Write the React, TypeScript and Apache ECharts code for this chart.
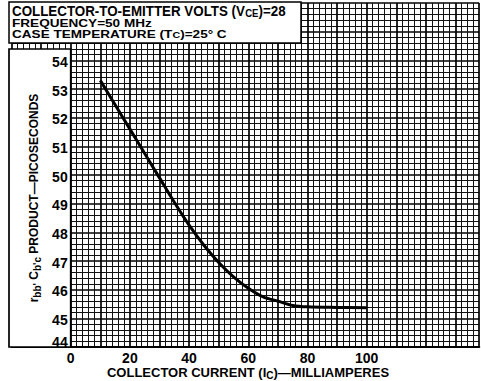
import React, { useEffect, useRef } from "react";
import * as echarts from "echarts";

// Collector current (mA) and r_bb'·C_b'c product (ps)
const currentMA = [10, 15, 20, 25, 30, 35, 40, 45, 50, 55, 60, 65, 70, 75, 80, 90, 100];
const productPs = [53.3, 52.45, 51.6, 50.75, 49.9, 49.05, 48.25, 47.55, 46.95, 46.45, 46.05, 45.75, 45.6, 45.45, 45.4, 45.38, 45.37];

const xTickLabels = [0, 20, 40, 60, 80, 100];
const yTickLabels = [44, 45, 46, 47, 48, 49, 50, 51, 52, 53, 54];

const headerTitle = "COLLECTOR-TO-EMITTER VOLTS (V{s|CE})=28";
const headerConditions = ["FREQUENCY=50 MHz", "CASE TEMPERATURE (T{s|C})=25° C"];
const yTitle = "r{s|bb'} C{s|b'c} PRODUCT—PICOSECONDS";
const xTitle = "COLLECTOR CURRENT (I{s|C})—MILLIAMPERES";

const FONT = "Liberation Sans";

export default function App() {
  const ref = useRef<HTMLDivElement>(null);

  useEffect(() => {
    if (!ref.current) return;
    const chart = echarts.init(ref.current, null, { renderer: "svg" });

    const gridLeft = 11.5;
    const gridRight = 1.8;
    const gridTop = 3;
    const gridBottom = 34;

    const subRich = {
      s: { fontFamily: FONT, fontWeight: "bold", fontSize: 10, fill: "#000", padding: [6, 0, 0, 0] },
    };

    const majorLine = { color: "#000", width: 1.7 };
    const minorLine = { color: "#111", width: 1 };

    chart.setOption({
      animation: false,
      backgroundColor: "#fff",
      grid: { left: gridLeft, right: gridRight, top: gridTop, bottom: gridBottom },
      xAxis: {
        type: "value",
        min: -20,
        max: 138,
        interval: 10,
        axisLine: { show: true, onZero: false, lineStyle: { color: "#000", width: 2.2 } },
        axisTick: { show: false },
        splitLine: { show: true, lineStyle: majorLine },
        minorTick: { show: false, splitNumber: 5 },
        minorSplitLine: { show: true, lineStyle: minorLine },
        axisLabel: {
          margin: 4,
          fontFamily: FONT,
          fontWeight: "bold",
          fontSize: 14,
          color: "#000",
          showMinLabel: true,
          showMaxLabel: false,
          formatter: (v: number) => (xTickLabels.includes(v) ? String(v) : ""),
        },
        z: 0,
      },
      yAxis: [
        {
          type: "value",
          min: 44,
          max: 56,
          interval: 1,
          axisLine: { show: false },
          axisTick: { show: false },
          axisLabel: { show: false },
          splitLine: { show: true, lineStyle: majorLine },
          minorTick: { show: false, splitNumber: 5 },
          minorSplitLine: { show: true, lineStyle: minorLine },
          z: 0,
        },
        {
          type: "value",
          position: "left",
          offset: -59.2,
          min: 44,
          max: 56,
          interval: 1,
          axisLine: { show: false },
          axisTick: { show: false },
          splitLine: { show: false },
          axisLabel: {
            margin: 3,
            fontFamily: FONT,
            fontWeight: "bold",
            fontSize: 14,
            color: "#000",
            formatter: (v: number) => {
              if (!yTickLabels.includes(v)) return "";
              return v === 44 ? `{lo|${v}}` : `{n|${v}}`;
            },
            rich: {
              n: { fontFamily: FONT, fontWeight: "bold", fontSize: 14, padding: [3, 0, 0, 0] },
              lo: { fontFamily: FONT, fontWeight: "bold", fontSize: 14, padding: [0, 0, 10, 0] },
            },
          },
          z: 10,
        },
      ],
      series: [
        {
          type: "line",
          yAxisIndex: 0,
          data: currentMA.map((c, i) => [c, productPs[i]]),
          smooth: 0.3,
          symbol: "none",
          lineStyle: { color: "#000", width: 3 },
          z: 3,
        },
      ],
      graphic: [
        // header box
        {
          type: "rect",
          z: 5,
          shape: { x: 9, y: 2, width: 292, height: 41 },
          style: { fill: "#fff", stroke: "#000", lineWidth: 1.5 },
        },
        // label box left of the grid
        {
          type: "rect",
          z: 5,
          shape: { x: 9, y: 49, width: 61.7, height: 298 },
          style: { fill: "#fff", stroke: "#000", lineWidth: 1.7 },
        },
        {
          type: "text",
          z: 6,
          x: 12,
          y: 4,
          scaleX: 0.955,
          style: {
            text: headerTitle,
            fontFamily: FONT,
            fontWeight: "bold",
            fontSize: 14,
            fill: "#000",
            lineHeight: 14,
            rich: { s: { fontFamily: FONT, fontWeight: "bold", fontSize: 10, fill: "#000", padding: [5, 0, 0, 0] } },
          },
        },
        // test conditions, condensed vertically into tight lines
        ...headerConditions.map((t, i) => ({
          type: "text",
          z: 6,
          x: 12,
          y: 18.5 + i * 10.6,
          scaleX: 0.97,
          scaleY: 0.74,
          style: {
            text: t,
            fontFamily: FONT,
            fontWeight: "bold",
            fontSize: 14,
            fill: "#000",
            lineHeight: 14,
            rich: {
              s: { fontFamily: FONT, fontWeight: "bold", fontSize: 11, fill: "#000", lineHeight: 14, verticalAlign: "bottom" },
            },
          },
        })),
        {
          type: "text",
          z: 6,
          x: 34,
          y: 198,
          rotation: Math.PI / 2,
          style: {
            text: yTitle,
            fontFamily: FONT,
            fontWeight: "bold",
            fontSize: 12,
            fill: "#000",
            align: "center",
            verticalAlign: "middle",
            rich: subRich,
          },
        },
        {
          type: "text",
          z: 6,
          x: 248,
          y: 372,
          style: {
            text: xTitle,
            fontFamily: FONT,
            fontWeight: "bold",
            fontSize: 13,
            fill: "#000",
            align: "center",
            verticalAlign: "middle",
            rich: subRich,
          },
        },
      ],
    });

    return () => chart.dispose();
  }, []);

  return (
    <div
      ref={ref}
      style={{ position: "absolute", left: 0, top: 0, width: 481, height: 381, background: "#fff" }}
    />
  );
}
